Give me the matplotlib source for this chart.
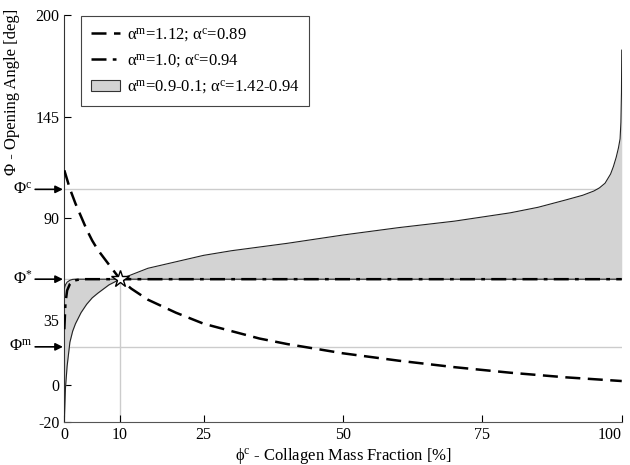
import matplotlib
matplotlib.use("Agg")
import matplotlib.pyplot as plt
from matplotlib.lines import Line2D
from matplotlib.patches import Patch

plt.rcParams['font.family'] = ['Liberation Serif', 'DejaVu Serif']
plt.rcParams['mathtext.fontset'] = 'custom'
plt.rcParams['mathtext.rm'] = 'Liberation Serif'
plt.rcParams['mathtext.it'] = 'Liberation Serif:italic'
plt.rcParams['axes.unicode_minus'] = False

# reference angles (deg)
phi_c_level = 105.7
phi_star = 57.1
phi_m_level = 20.5

# dashed curve: alpha_m=1.12; alpha_c=0.89
x_dash = [0, 1, 2, 3, 4, 5, 6, 8, 10, 12, 15, 20, 25, 30, 35, 40, 50, 60, 70, 80, 90, 100]
y_dash = [116, 106, 98, 91, 84, 78, 73, 65, 57.1, 52, 46, 39, 33, 29, 25, 22, 17, 13, 9.5, 6.5, 4, 2]

# dash-dot curve: alpha_m=1.0; alpha_c=0.94
x_dashdot = [0, 0.2, 0.5, 1, 1.5, 2, 3, 5, 100]
y_dashdot = [30, 44, 51, 54.5, 56, 56.5, 57.1, 57.1, 57.1]

# shaded band: alpha_m=0.9-0.1; alpha_c=1.42-0.94
x_band = [0, 0.2, 0.5, 1, 1.5, 2, 3, 4, 5, 6, 8, 10, 15, 20, 25, 30, 35, 40, 50,
          60, 70, 80, 85, 90, 93, 95, 96, 97, 98, 98.5, 99, 99.4, 99.7, 99.85, 99.95, 100]
y_band_curve = [-20, -2, 10, 23, 29, 33, 39, 43.5, 47, 49.5, 54, 57.1, 63, 66.5, 70, 72.5, 74.5, 76.5, 81,
                85, 88.5, 93, 96, 100, 102.5, 104.8, 106.5, 109, 114, 118, 123, 128, 133, 142, 158, 181]
y_band_flat = [52, 54, 55.5, 56.5, 57, 57.1, 57.1, 57.1, 57.1, 57.1, 57.1, 57.1, 57.1, 57.1, 57.1, 57.1, 57.1,
               57.1, 57.1, 57.1, 57.1, 57.1, 57.1, 57.1, 57.1, 57.1, 57.1, 57.1, 57.1, 57.1, 57.1, 57.1,
               57.1, 57.1, 57.1, 57.1]

xticks = [0, 10, 25, 50, 75, 100]
yticks = [-20, 0, 35, 90, 145, 200]

fig = plt.figure(figsize=(6.3, 4.65), dpi=100)
ax = fig.add_axes([0.1021, 0.0931, 0.8848, 0.8746])

# guide lines
for lev in [phi_c_level, phi_star, phi_m_level]:
    ax.plot([0, 100], [lev, lev], color='#cccccc', lw=1, zorder=1)
ax.plot([10, 10], [-20, phi_star], color='#cccccc', lw=1, zorder=1)

ax.fill_between(x_band, y_band_curve, y_band_flat, color='#d3d3d3', lw=0, zorder=2)
ax.plot(x_band, y_band_curve, color='#222222', lw=0.8, zorder=3)
ax.plot(x_band, y_band_flat, color='#222222', lw=0.8, zorder=3)

ax.plot(x_dashdot, y_dashdot, color='black', lw=1.8, dashes=(6, 2.5, 1.5, 2.5), zorder=4)
ax.plot(x_dash, y_dash, color='black', lw=1.8, dashes=(6, 3), zorder=4)

ax.plot([10], [phi_star], marker='*', ms=13, mfc='white', mec='black', mew=1, zorder=5)

ax.set_xlim(0, 100)
ax.set_ylim(-20, 200)
ax.set_xticks(xticks)
ax.set_xticklabels([str(t) for t in xticks])
ax.get_xticklabels()[-1].set_horizontalalignment('right')
ax.set_yticks(yticks)
ax.set_yticklabels([str(t) for t in yticks])
ax.tick_params(direction='in', length=5, labelsize=11.5, width=0.8)
ax.tick_params(axis='x', pad=4)
ax.spines['top'].set_visible(False)
ax.spines['right'].set_visible(False)
ax.spines['left'].set_color('#333333')
ax.spines['bottom'].set_color('#555555')

ax.set_xlabel(r'ϕ$^{\mathrm{c}}$ - Collagen Mass Fraction [%]', fontsize=12, labelpad=2)
ax.set_ylabel('Φ - Opening Angle [deg]', fontsize=12)
ax.yaxis.set_label_coords(-0.08, 0.81)

# level markers on the left
for lev, lab in [(phi_c_level, r'Φ$^{\mathrm{c}}$'), (phi_star, r'Φ$^{*}$'), (phi_m_level, r'Φ$^{\mathrm{m}}$')]:
    ax.annotate(lab, xy=(0, lev), xycoords='data', xytext=(-23, 0), textcoords='offset points',
                ha='right', va='center', fontsize=12, annotation_clip=False,
                arrowprops=dict(arrowstyle='-|>', color='black', lw=1.2, mutation_scale=11,
                                shrinkA=0, shrinkB=1))

handles = [
    Line2D([], [], color='black', lw=1.8, dashes=(6, 3)),
    Line2D([], [], color='black', lw=1.8, dashes=(6, 2.5, 1.5, 2.5)),
    Patch(facecolor='#d3d3d3', edgecolor='#333333', lw=0.8),
]
labels = [r'α$^{\mathrm{m}}$=1.12; α$^{\mathrm{c}}$=0.89',
          r'α$^{\mathrm{m}}$=1.0; α$^{\mathrm{c}}$=0.94',
          r'α$^{\mathrm{m}}$=0.9-0.1; α$^{\mathrm{c}}$=1.42-0.94']
leg = ax.legend(handles, labels, loc='upper left', bbox_to_anchor=(0.0294, 0.997), borderaxespad=0,
                fontsize=12, fancybox=False, framealpha=1, edgecolor='#444444', handlelength=1.75,
                handletextpad=0.4, borderpad=0.6, labelspacing=0.5)
leg.get_frame().set_linewidth(0.8)

fig.savefig('out.png', dpi=100)
